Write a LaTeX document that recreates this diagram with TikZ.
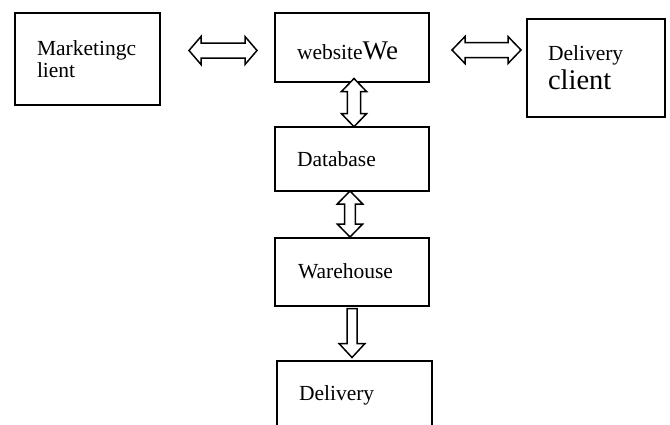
\documentclass[tikz,border=0pt]{standalone}
\usepackage{fontspec}
\setmainfont{Liberation Serif}
\begin{document}
\begin{tikzpicture}[x=1pt,y=-1pt,
  box/.style={draw,line width=2pt,inner sep=0pt,outer sep=0pt},
  blockarrow/.style={draw,line width=1.5pt,line join=miter,fill=white},
  lbl/.style={anchor=base west,inner sep=0pt,outer sep=0pt,font=\fontsize{21.5}{23}\selectfont}
]
\newcommand\hdblarrow[6]{% x1 x2 y headhalf shafthalf headlen
  \draw[blockarrow] (#1,#3) -- (#1+#6,#3-#4) -- (#1+#6,#3-#5) -- (#2-#6,#3-#5) -- (#2-#6,#3-#4)
    -- (#2,#3) -- (#2-#6,#3+#4) -- (#2-#6,#3+#5) -- (#1+#6,#3+#5) -- (#1+#6,#3+#4) -- cycle;}
\newcommand\vdblarrow[6]{% x y1 y2 headhalf shafthalf headlen
  \draw[blockarrow] (#1,#2) -- (#1+#4,#2+#6) -- (#1+#5,#2+#6) -- (#1+#5,#3-#6) -- (#1+#4,#3-#6)
    -- (#1,#3) -- (#1-#4,#3-#6) -- (#1-#5,#3-#6) -- (#1-#5,#2+#6) -- (#1-#4,#2+#6) -- cycle;}
\useasboundingbox (0,0) rectangle (670,424);
\clip (0,0) rectangle (670,424);
\fill[white] (0,0) rectangle (670,424);

% boxes
\node[box,minimum width=145pt,minimum height=92pt] (mk) at (87.5,59) {};
\node[box,minimum width=154pt,minimum height=69pt] (web) at (352,47.5) {};
\node[box,minimum width=138pt,minimum height=98pt] (dc) at (596,68) {};
\node[box,minimum width=154pt,minimum height=64pt] (db) at (352,159) {};
\node[box,minimum width=154pt,minimum height=68pt] (wh) at (352,272) {};
\node[box,minimum width=155pt,minimum height=68pt] (dl) at (354.5,395) {};

% texts
\node[lbl] (t1) at (37,55) {Marketingc};
\node[lbl] (t2) at (37,77) {lient};
\node[lbl] (t3) at (297,59) {website{\fontsize{27}{29}\selectfont We}};
\node[lbl] (t4) at (548,60) {Delivery};
\node[lbl,font=\fontsize{28.5}{30}\selectfont] (t5) at (548,89) {client};
\node[lbl] (t6) at (297,166) {Database};
\node[lbl] (t7) at (298,278) {Warehouse};
\node[lbl] (t8) at (299,400) {Delivery};

% block arrows
\hdblarrow{189}{257}{50.5}{14}{7.5}{12}
\hdblarrow{452}{521}{50}{13.5}{7.5}{13}
\vdblarrow{354}{78.5}{126.7}{12.5}{6.7}{13}
\vdblarrow{350}{191}{237}{12.7}{5.3}{13}
\draw[blockarrow] (347,308.5) -- (357,308.5) -- (357,343.5) -- (365,343.5) -- (352,357.5)
  -- (339,343.5) -- (347,343.5) -- cycle;
\end{tikzpicture}
\end{document}
